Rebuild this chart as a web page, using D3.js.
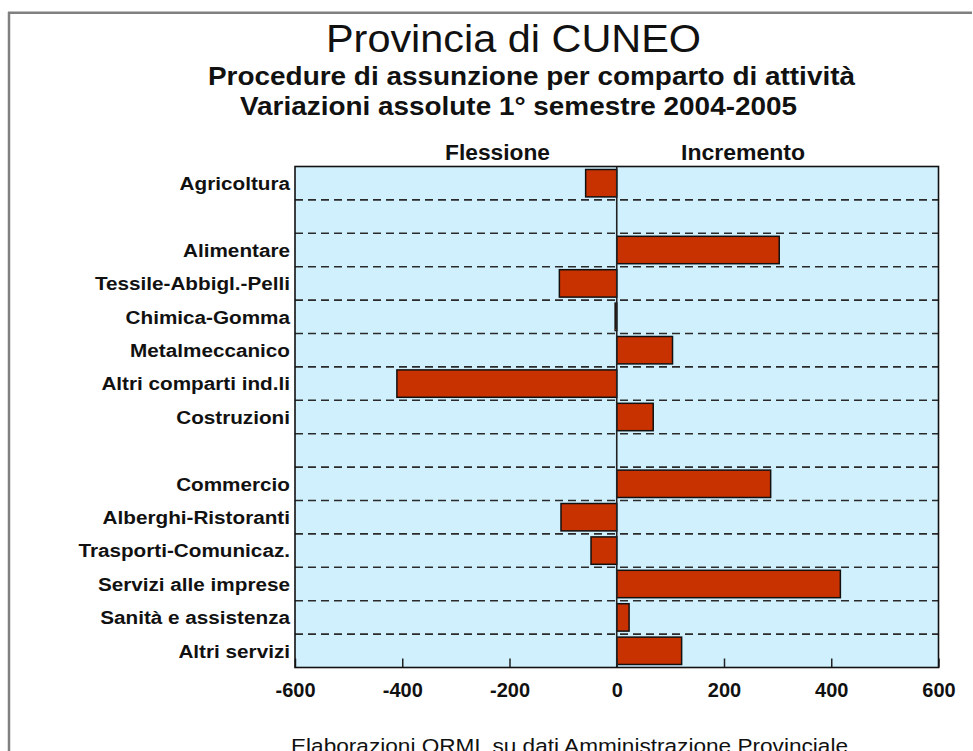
<!DOCTYPE html>
<html>
<head>
<meta charset="utf-8">
<script src="https://cdn.jsdelivr.net/npm/d3@7"></script>
<style>
  body { margin: 0; background: #fff; }
  svg { display: block; font-family: "Liberation Sans", Arial, sans-serif; }
</style>
</head>
<body>
<svg id="chart" width="973" height="751"></svg>
<script>
// categories top to bottom, '' = empty row between groups
const categories = [
    'Agricoltura', '',
    'Alimentare', 'Tessile-Abbigl.-Pelli', 'Chimica-Gomma', 'Metalmeccanico',
    'Altri comparti ind.li', 'Costruzioni', '',
    'Commercio', 'Alberghi-Ristoranti', 'Trasporti-Comunicaz.',
    'Servizi alle imprese', 'Sanità e assistenza', 'Altri servizi'
]
const values = [
    -58, null,
    303, -107, -3, 104, -410, 68, null,
    287, -104, -48, 417, 23, 121
]
const xTicks = [-600, -400, -200, 0, 200, 400, 600]
const titles = ['Provincia di CUNEO',
    'Procedure di assunzione per comparto di attività',
    'Variazioni assolute 1° semestre 2004-2005']
const sideLabels = ['Flessione', 'Incremento']
const source = 'Elaborazioni ORML su dati Amministrazione Provinciale'

var plot = {left: 295, right: 938.5, top: 166.5, bottom: 667.5}

const svg = d3.select('#chart')

// outer frame (only top and left edge visible)
svg.append('line')
    .attr('x1', 8).attr('x2', 972).attr('y1', 12.7).attr('y2', 12.7)
    .attr('stroke', '#808080').attr('stroke-width', 2.5)
svg.append('line')
    .attr('x1', 9).attr('x2', 9).attr('y1', 12).attr('y2', 751)
    .attr('stroke', '#808080').attr('stroke-width', 2.5)

// titles (the original is a bit stretched sideways, so widths are fixed)
const head = [
    {t: titles[0], x: 326, w: 375, y: 52, size: 38, weight: 'normal'},
    {t: titles[1], x: 208, w: 647, y: 85, size: 25.5, weight: 'bold'},
    {t: titles[2], x: 240, w: 557, y: 115, size: 25.5, weight: 'bold'},
    {t: sideLabels[0], x: 445, w: 105, y: 159.5, size: 21.5, weight: 'bold'},
    {t: sideLabels[1], x: 681, w: 124, y: 159.5, size: 21.5, weight: 'bold'},
    {t: source, x: 291, w: 557, y: 753, size: 20.5, weight: 'normal'}
]
svg.selectAll('text.head')
    .data(head)
    .enter().append('text')
    .attr('class', 'head')
    .attr('x', d => d.x)
    .attr('y', d => d.y)
    .attr('textLength', d => d.w)
    .attr('lengthAdjust', 'spacingAndGlyphs')
    .style('font-size', d => d.size + 'px')
    .style('font-weight', d => d.weight)
    .attr('fill', '#111')
    .text(d => d.t)

var x = d3.scaleLinear().domain([-600, 600]).range([plot.left, plot.right])
var y = d3.scaleBand().domain(d3.range(categories.length)).range([plot.top, plot.bottom])
const bw = y.bandwidth()

// category labels (right aligned, slightly stretched like the original)
svg.append('g').selectAll('text')
    .data(categories)
    .enter().append('text')
    .attr('transform', (d, i) => 'translate(290,' + (y(i) + bw / 2 + 6.8) + ') scale(1.09,1)')
    .attr('text-anchor', 'end')
    .style('font-size', '19px')
    .style('font-weight', 'bold')
    .attr('fill', '#111')
    .text(d => d)

// plot background
svg.append('rect')
    .attr('x', plot.left).attr('y', plot.top)
    .attr('width', plot.right - plot.left).attr('height', plot.bottom - plot.top)
    .attr('fill', '#d0f0fe')

// dashed row separators
svg.append('g').selectAll('line')
    .data(d3.range(1, categories.length))
    .enter().append('line')
    .attr('x1', plot.left).attr('x2', plot.right)
    .attr('y1', d => y(d)).attr('y2', d => y(d))
    .attr('stroke', '#2a2a2a')
    .attr('stroke-width', 1.6)
    .attr('stroke-dasharray', '8,5')

// bars
const rows = categories.map((c, i) => ({name: c, i: i, v: values[i]})).filter(d => d.v !== null)
svg.append('g').selectAll('rect')
    .data(rows)
    .enter().append('rect')
    .attr('x', d => x(Math.min(0, d.v)))
    .attr('width', d => Math.abs(x(d.v) - x(0)))
    .attr('y', d => y(d.i) + bw * 0.09)
    .attr('height', bw * 0.82)
    .attr('fill', '#c83200')
    .attr('stroke', '#111')
    .attr('stroke-width', 1.5)

// zero line
svg.append('line')
    .attr('x1', x(0)).attr('x2', x(0))
    .attr('y1', plot.top).attr('y2', plot.bottom)
    .attr('stroke', '#222').attr('stroke-width', 1.6)

// x axis with inward ticks, plain hyphen minus like the original
const xAxis = d3.axisBottom(x)
    .tickValues(xTicks)
    .tickFormat(d => String(d))
    .tickSizeInner(-9)
    .tickSizeOuter(0)
    .tickPadding(15.5)
const gX = svg.append('g')
    .attr('transform', 'translate(0,' + plot.bottom + ')')
    .call(xAxis)
gX.select('.domain').remove()
gX.selectAll('.tick line').attr('stroke', '#222').attr('stroke-width', 1.5)
gX.selectAll('.tick text')
    .attr('fill', '#111')
    .style('font-size', '20px')
    .style('font-weight', 'bold')
    .style('font-family', '"Liberation Sans", Arial, sans-serif')

// plot border on top
svg.append('rect')
    .attr('x', plot.left).attr('y', plot.top)
    .attr('width', plot.right - plot.left).attr('height', plot.bottom - plot.top)
    .attr('fill', 'none')
    .attr('stroke', '#111')
    .attr('stroke-width', 1.6)
</script>
</body>
</html>
